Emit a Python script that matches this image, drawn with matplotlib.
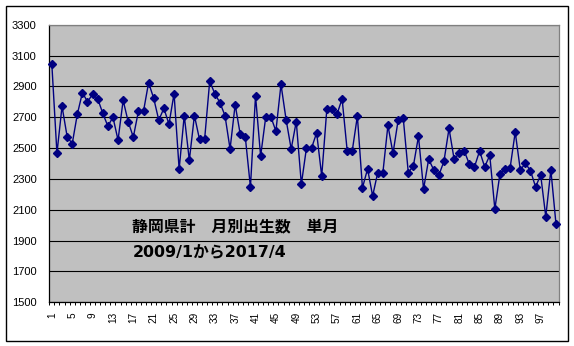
import matplotlib
matplotlib.use("Agg")
import matplotlib.pyplot as plt
from matplotlib.patches import Rectangle
import numpy as np

# Monthly births, Shizuoka prefecture, 2009/1 .. 2017/4 (100 months)
births = [
    3042, 2466, 2771, 2575, 2528, 2719, 2859, 2801, 2848, 2820,
    2726, 2642, 2700, 2552, 2810, 2670, 2571, 2739, 2739, 2924,
    2823, 2681, 2758, 2655, 2853, 2363, 2711, 2421, 2711, 2556,
    2556, 2934, 2853, 2795, 2711, 2494, 2782, 2589, 2569, 2247,
    2840, 2447, 2700, 2704, 2610, 2913, 2685, 2494, 2672, 2266,
    2500, 2500, 2599, 2318, 2752, 2752, 2719, 2820, 2483, 2483,
    2707, 2242, 2365, 2190, 2341, 2337, 2647, 2466, 2679, 2698,
    2341, 2384, 2576, 2234, 2428, 2358, 2324, 2414, 2627, 2428,
    2466, 2481, 2395, 2378, 2481, 2378, 2453, 2105, 2332, 2366,
    2372, 2604, 2358, 2401, 2353, 2248, 2326, 2055, 2358, 2010,
]
months = list(range(1, len(births) + 1))
x_labels = [str(m) for m in months if (m - 1) % 4 == 0]
y_ticks = list(range(1500, 3301, 200))
title_lines = ["静岡県計\u3000月別出生数\u3000単月", "2009/1から2017/4"]

W, H = 574, 346
fig = plt.figure(figsize=(W / 100, H / 100), dpi=100)
fig.patch.set_facecolor("white")

# plot area in pixel terms
left, right, top, bottom = 49.3, 558.5, 24.7, 302.3
ax = fig.add_axes([left / W, (H - bottom) / H, (right - left) / W, (bottom - top) / H])
ax.set_facecolor("#C0C0C0")

ax.plot(months, births, color="#000080", linewidth=1.0, marker="D",
        markersize=4.2, markerfacecolor="#000080", markeredgecolor="#000080",
        zorder=3, clip_on=False)

ax.set_xlim(0.5, len(births) + 0.5)
ax.set_ylim(1500, 3300)
ax.set_yticks(y_ticks)
ax.set_yticklabels([str(v) for v in y_ticks], fontsize=8, family="Liberation Sans")
ax.tick_params(axis="y", length=0, pad=9)
ax.yaxis.grid(True, color="black", linewidth=0.8)
ax.set_axisbelow(True)

ax.set_xticks([m for m in months if (m - 1) % 4 == 0])
ax.set_xticklabels(x_labels, rotation=90, fontsize=7.2, family="Liberation Sans",
                   va="top", ha="center")
ax.set_xticks(np.arange(0.5, len(births) + 1, 1.0), minor=True)
ax.tick_params(axis="x", which="major", length=0, pad=7)
ax.tick_params(axis="x", which="minor", length=2.2, width=0.7, direction="out",
               color="black")

for side in ("left", "bottom"):
    ax.spines[side].set_color("black")
    ax.spines[side].set_linewidth(0.9)
for side in ("top", "right"):
    ax.spines[side].set_color("#808080")
    ax.spines[side].set_linewidth(0.9)

# chart caption inside the plot area
fig.text(132.0 / W, 1 - 227.5 / H, title_lines[0],
         family=["Noto Sans CJK JP", "DejaVu Sans"], fontweight="bold",
         fontsize=11.4, va="center", ha="left")
fig.text(133.0 / W, 1 - 252.5 / H, title_lines[1],
         family=["DejaVu Sans", "Noto Sans CJK JP"], fontweight="bold",
         fontsize=11.4, va="center", ha="left")

# outer chart border
fig.patches.append(Rectangle((5.5 / W, 1 - 340.5 / H), 562 / W, 335 / H,
                             transform=fig.transFigure, fill=False,
                             edgecolor="black", linewidth=1.0))

fig.savefig("out.png", dpi=100)
